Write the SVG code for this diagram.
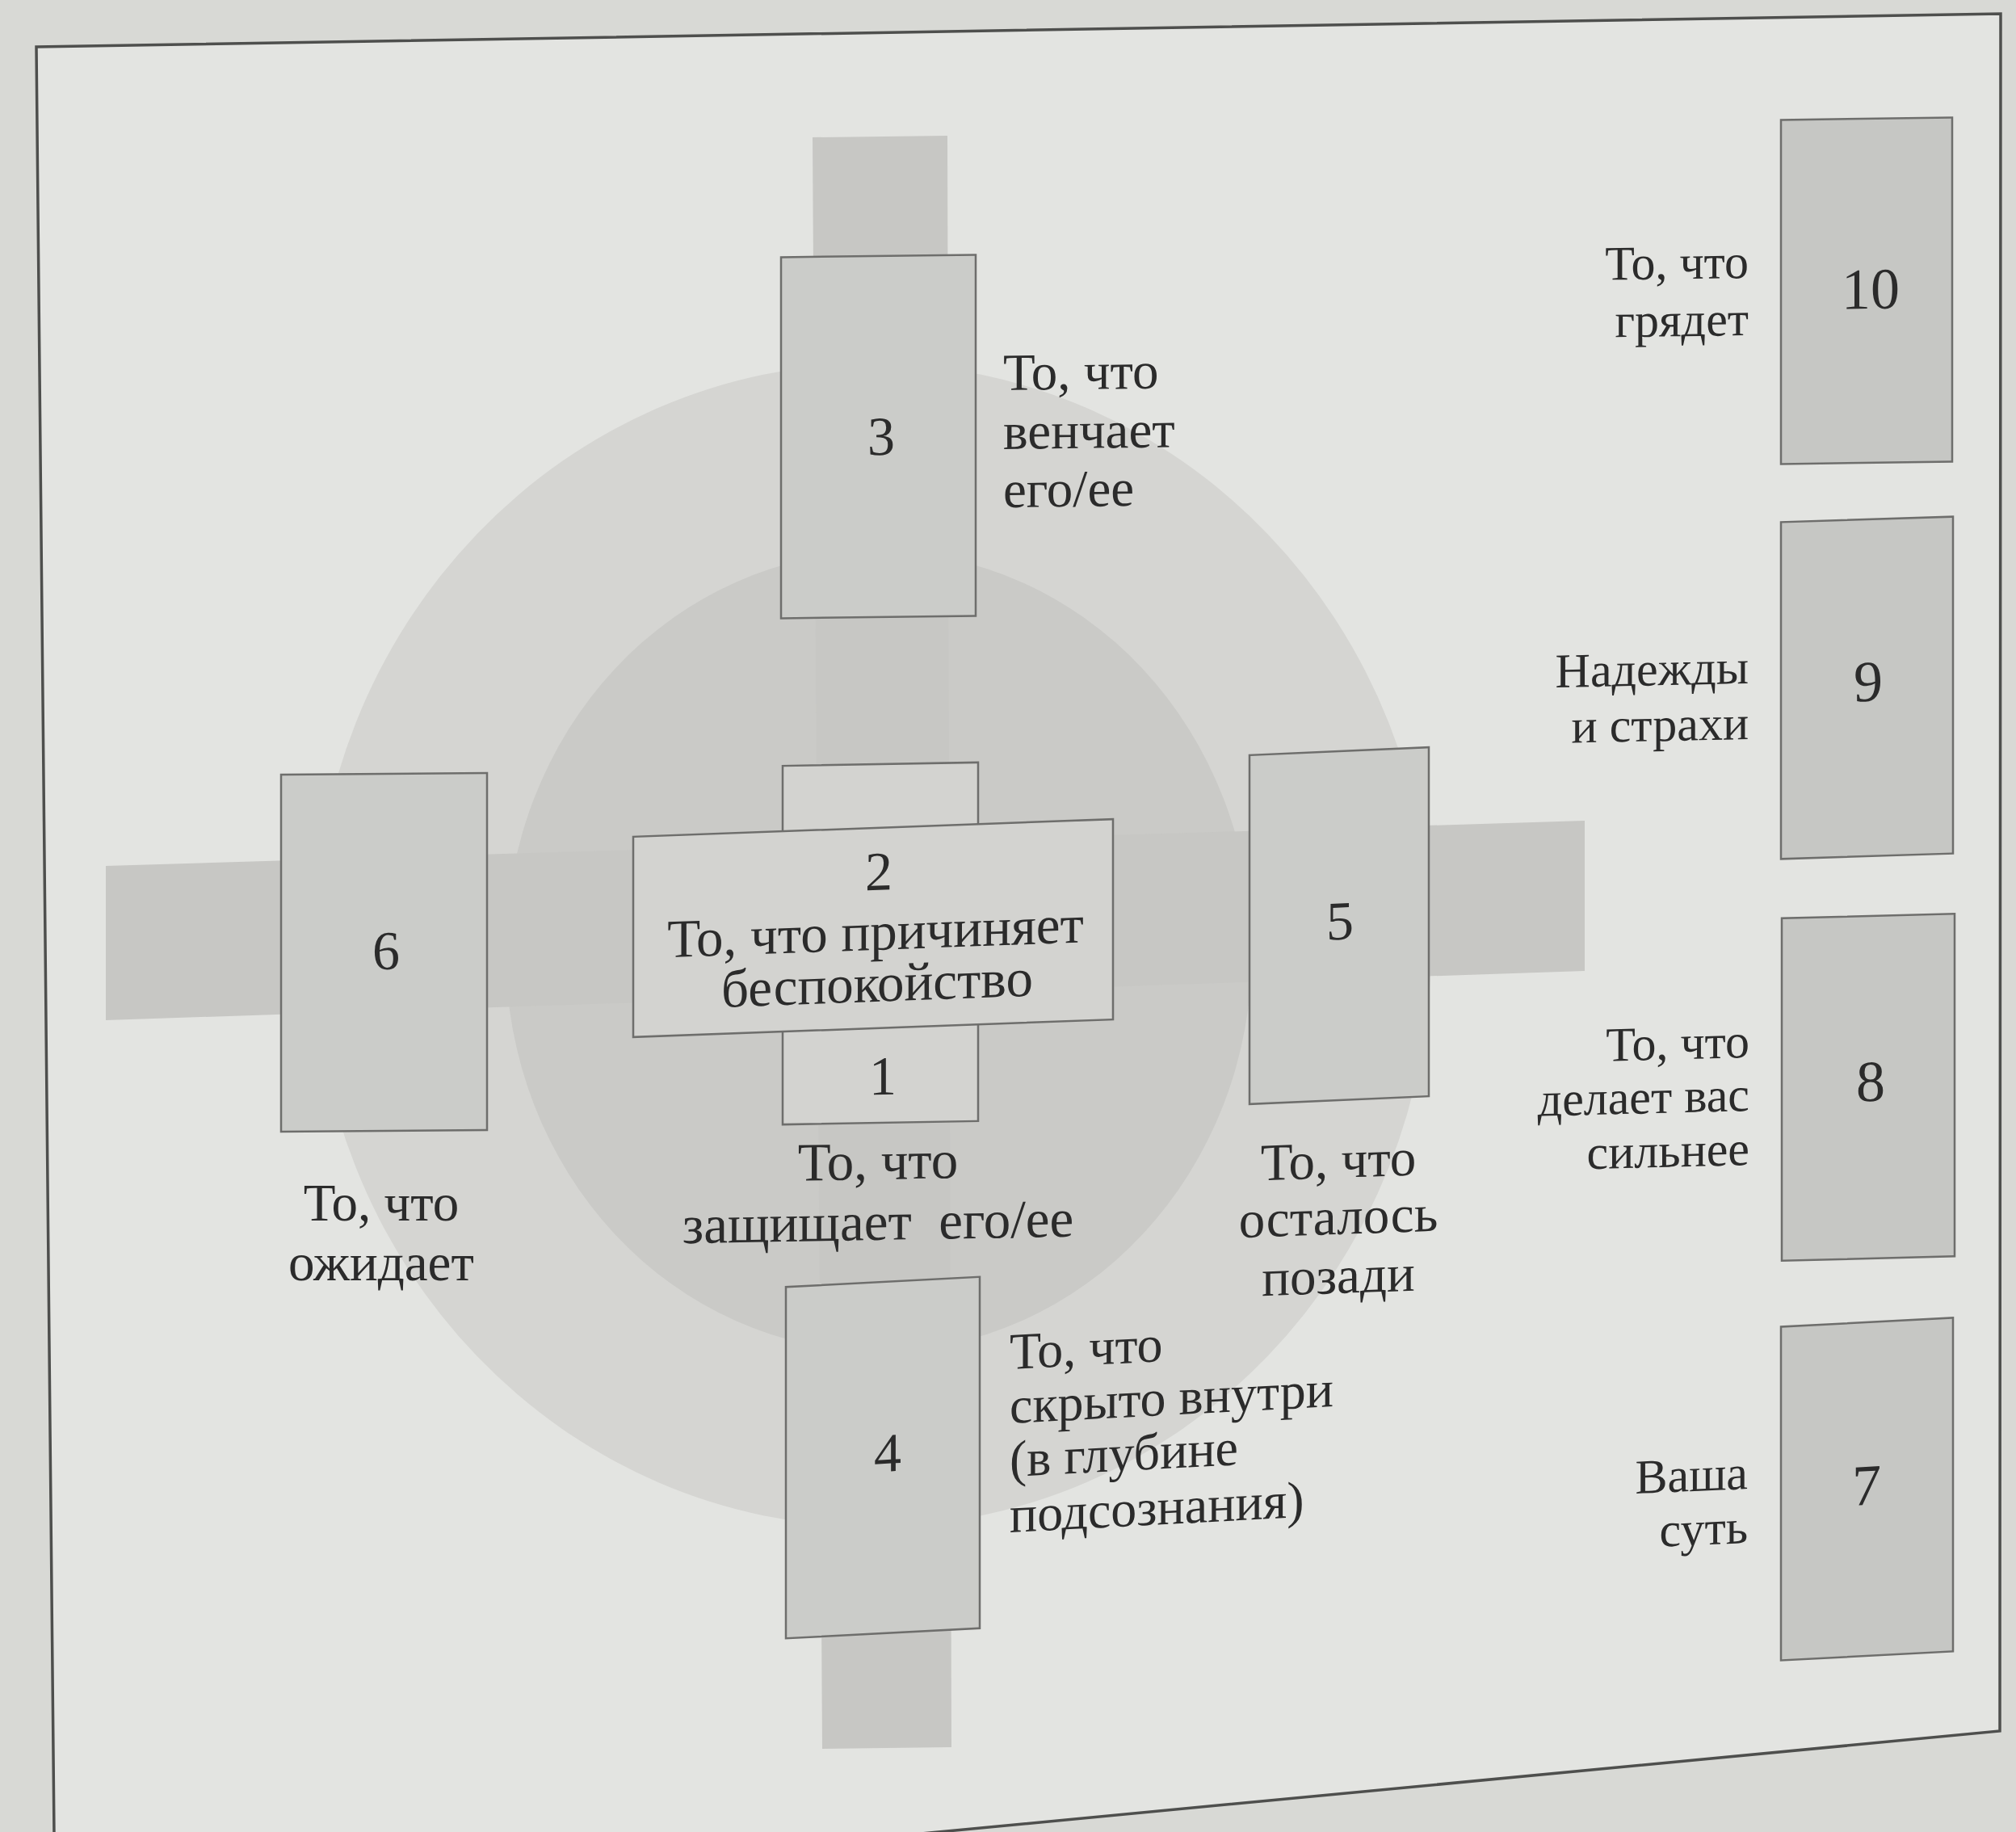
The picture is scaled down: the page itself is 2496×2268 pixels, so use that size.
<svg xmlns="http://www.w3.org/2000/svg" width="2496" height="2268" viewBox="0 0 2496 2268">
<style>
.card{fill:#cbccc9;stroke:#6e6e6c;stroke-width:2.5}
.cardr{fill:#c6c7c4;stroke:#6e6e6c;stroke-width:2.5}
.cardl{fill:#d3d3d0;stroke:#6e6e6c;stroke-width:2.5}
.num{font-family:"Liberation Serif","DejaVu Serif",serif;font-size:68px;fill:#2b2b2b;text-anchor:middle}
.numr{font-family:"Liberation Serif","DejaVu Serif",serif;font-size:72px;fill:#2b2b2b;text-anchor:middle}
.lbl{font-family:"Liberation Serif","DejaVu Serif",serif;font-size:65px;fill:#2b2b2b}
.lblr{font-family:"Liberation Serif","DejaVu Serif",serif;font-size:60px;fill:#2b2b2b;text-anchor:end}
.mid{text-anchor:middle}
.bar{fill:#c7c7c4}
</style>
<g id="background">
<rect x="0" y="0" width="2496" height="2268" fill="#d8d9d5"/>
<polygon points="45,58 2477,17 2476,2143 68,2372" fill="#e3e4e1" stroke="#4e4f4d" stroke-width="3.5"/>
<ellipse cx="1080" cy="1170" rx="692" ry="720" fill="#d5d5d2"/>
<ellipse cx="1088" cy="1178" rx="462" ry="495" fill="#cacac7"/>
<polygon class="bar" points="1006,170 1173,168 1178,2163 1018,2165"/>
<polygon class="bar" points="131,1072 1962,1016 1962,1202 131,1263"/>
</g>
<g id="connectors"></g>
<g id="card3">
<g transform="translate(1087.5 540.5) skewY(-0.7) translate(-1087.5 -540.5)">
<rect class="card" x="967" y="317" width="241" height="447"/>
<text class="num" x="1091" y="563">3</text>
</g>
<text class="lbl" transform="translate(1242 483) skewY(-0.7) translate(-1242 -483)"><tspan x="1242" y="483">То, что</tspan><tspan x="1242" y="556">венчает</tspan><tspan x="1242" y="628">его/ее</tspan></text>
</g>
<g id="card1">
<g transform="translate(1090 1168) skewY(-1) translate(-1090 -1168)">
<rect class="cardl" x="969" y="946" width="242" height="444"/>
<text class="num" x="1093" y="1355">1</text>
</g>
<text class="lbl mid" style="font-size:67px" transform="translate(1087 1460) skewY(-1) translate(-1087 -1460)"><tspan x="1087" y="1460">То, что</tspan><tspan x="1087" y="1535">защищает&#160; его/ее</tspan></text>
</g>
<g id="card2" transform="translate(1081 1149) skewY(-2.1) translate(-1081 -1149)">
<rect class="cardl" x="784" y="1025" width="594" height="248"/>
<text class="num" x="1088" y="1102">2</text>
<text class="lbl mid" style="font-size:67px"><tspan x="1084" y="1176">То, что причиняет</tspan><tspan x="1086" y="1240">беспокойство</tspan></text>
</g>
<g id="card6">
<g transform="translate(475.5 1179) skewY(-0.5) translate(-475.5 -1179)">
<rect class="card" x="348" y="958" width="255" height="442"/>
<text class="num" x="478" y="1200">6</text>
</g>
<text class="lbl mid"><tspan x="472" y="1511">То, что</tspan><tspan x="472" y="1585">ожидает</tspan></text>
</g>
<g id="card5">
<g transform="translate(1658 1146) skewY(-2.5) translate(-1658 -1146)">
<rect class="card" x="1547" y="930" width="222" height="432"/>
<text class="num" x="1659" y="1163">5</text>
</g>
<text class="lbl mid" transform="translate(1657 1528) skewY(-2) translate(-1657 -1528)"><tspan x="1657" y="1458">То, что</tspan><tspan x="1657" y="1528">осталось</tspan><tspan x="1657" y="1601">позади</tspan></text>
</g>
<g id="card4">
<g transform="translate(1093 1804) skewY(-3) translate(-1093 -1804)">
<rect class="card" x="973" y="1587" width="240" height="435"/>
<text class="num" x="1099" y="1822">4</text>
</g>
<text class="lbl" style="font-size:64px" transform="translate(1250 1795) skewY(-3) translate(-1250 -1795)"><tspan x="1250" y="1695">То, что</tspan><tspan x="1250" y="1762">скрыто внутри</tspan><tspan x="1250" y="1828">(в глубине</tspan><tspan x="1250" y="1897">подсознания)</tspan></text>
</g>
<g id="card10">
<g transform="translate(2311 360) skewY(-0.8) translate(-2311 -360)">
<rect class="cardr" x="2205" y="147" width="212" height="426"/>
<text class="numr" x="2316" y="382">10</text>
</g>
<text class="lblr" transform="translate(2165 380) skewY(-0.8) translate(-2165 -380)"><tspan x="2165" y="344">То, что</tspan><tspan x="2165" y="415">грядет</tspan></text>
</g>
<g id="card9">
<g transform="translate(2311.5 851.5) skewY(-1.8) translate(-2311.5 -851.5)">
<rect class="cardr" x="2205" y="643" width="213" height="417"/>
<text class="numr" x="2313" y="868">9</text>
</g>
<text class="lblr" transform="translate(2165 880) skewY(-1.2) translate(-2165 -880)"><tspan x="2165" y="846">Надежды</tspan><tspan x="2165" y="915">и страхи</tspan></text>
</g>
<g id="card8">
<g transform="translate(2313 1346) skewY(-1.5) translate(-2313 -1346)">
<rect class="cardr" x="2206" y="1134" width="214" height="424"/>
<text class="numr" x="2316" y="1363">8</text>
</g>
<text class="lblr" transform="translate(2166 1375) skewY(-1.5) translate(-2166 -1375)"><tspan x="2166" y="1309">То, что</tspan><tspan x="2166" y="1375">делает вас</tspan><tspan x="2166" y="1442">сильнее</tspan></text>
</g>
<g id="card7">
<g transform="translate(2311 1842) skewY(-3) translate(-2311 -1842)">
<rect class="cardr" x="2205" y="1637" width="213" height="413"/>
<text class="numr" x="2311" y="1863">7</text>
</g>
<text class="lblr" transform="translate(2164 1876) skewY(-2.5) translate(-2164 -1876)"><tspan x="2164" y="1843">Ваша</tspan><tspan x="2164" y="1910">суть</tspan></text>
</g>
</svg>
